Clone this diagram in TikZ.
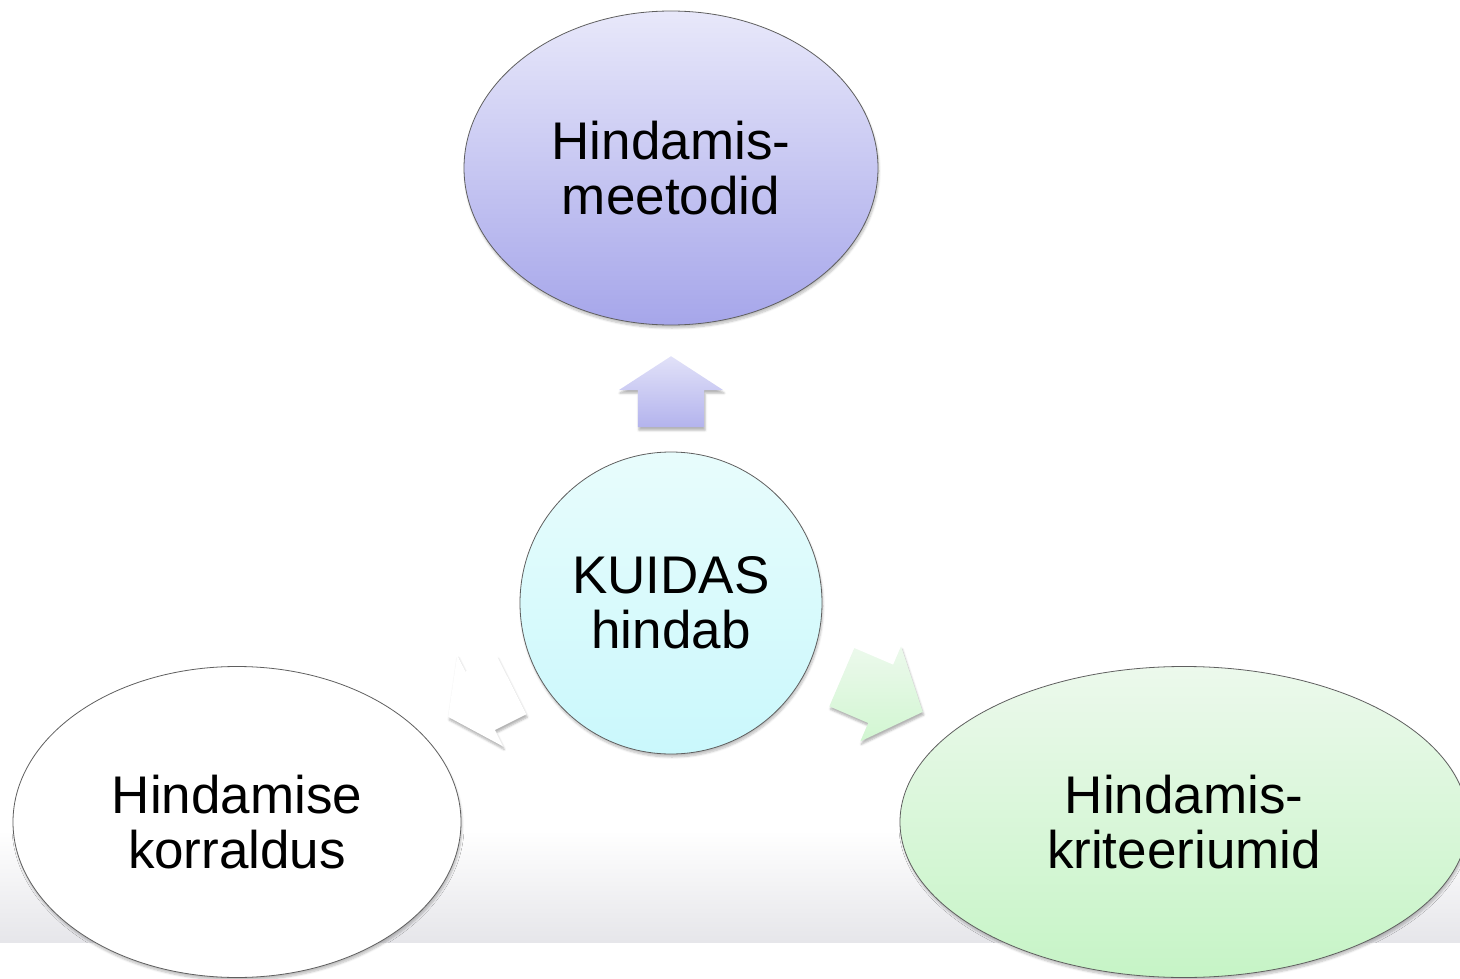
\documentclass[tikz,border=0pt]{standalone}
\usepackage{fontspec}
\setmainfont{Liberation Sans}
\usetikzlibrary{shapes.geometric,shapes.arrows,shadows.blur}

\definecolor{lilaTop}{RGB}{232,232,250}
\definecolor{lilaBot}{RGB}{166,166,234}
\definecolor{cyanTop}{RGB}{232,252,252}
\definecolor{cyanBot}{RGB}{202,248,252}
\definecolor{greenTop}{RGB}{236,249,236}
\definecolor{greenBot}{RGB}{198,244,198}
\definecolor{bandGray}{RGB}{230,230,234}
\definecolor{rimGray}{RGB}{95,95,95}

\tikzset{
  bubble/.style={ellipse, draw=rimGray, line width=0.8pt, inner sep=0pt, align=center,
    font=\fontsize{53}{55}\selectfont,
    blur shadow={shadow xshift=1pt, shadow yshift=-3pt, shadow opacity=25, shadow blur steps=6}},
  blockarrow/.style={single arrow, anchor=tip, inner xsep=0pt, inner ysep=33pt,
    single arrow head extend=19pt,
    blur shadow={shadow xshift=1pt, shadow yshift=-3pt, shadow opacity=30, shadow blur steps=4}}
}

\begin{document}
\begin{tikzpicture}[x=1pt,y=-1pt]

\useasboundingbox (0,0) rectangle (1460,979);
\clip (0,0) rectangle (1460,979);

\shade [top color=white, bottom color=bandGray] (0,830) rectangle (1460,942);

\node [bubble, top color=lilaTop, bottom color=lilaBot, minimum width=414pt, minimum height=314pt]
  (meetodid) at (671,168) {Hindamis-\\meetodid};
\node [bubble, circle, top color=cyanTop, bottom color=cyanBot, minimum size=302pt]
  (kuidas) at (671,603) {KUIDAS\\hindab};
\node [bubble, fill=white, minimum width=448pt, minimum height=311pt]
  (korraldus) at (237,822) {Hindamise\\korraldus};
\node [bubble, top color=greenTop, bottom color=greenBot, minimum width=568pt, minimum height=311pt]
  (kriteeriumid) at (1184,822) {Hindamis-\\kriteeriumid};

\node [blockarrow, rotate=90, minimum height=71pt, single arrow tip angle=114,
  top color=lilaTop!90!lilaBot, bottom color=lilaBot!85!white] (upArrow) at (671,356) {};
\node [blockarrow, rotate=-23.2, minimum height=88pt, inner ysep=31.5pt,
  single arrow head extend=20pt, single arrow tip angle=97,
  top color=greenTop, bottom color=greenBot!80!white] (rightArrow) at (923,712) {};
\node [blockarrow, rotate=206.7, minimum height=71pt, inner ysep=32.5pt,
  single arrow head extend=18.5pt, single arrow tip angle=110,
  fill=white] (leftArrow) at (448,717) {};

\end{tikzpicture}
\end{document}
